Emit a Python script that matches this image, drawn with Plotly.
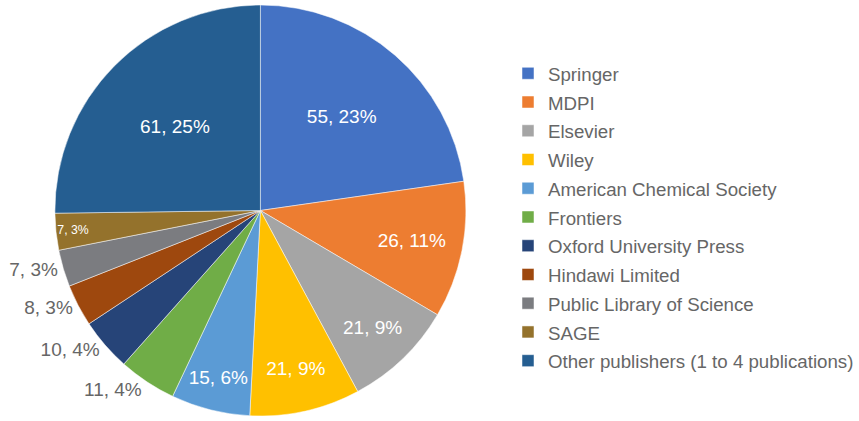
import plotly.graph_objects as go

publishers = ["Springer", "MDPI", "Elsevier", "Wiley", "American Chemical Society",
              "Frontiers", "Oxford University Press", "Hindawi Limited",
              "Public Library of Science", "SAGE", "Other publishers (1 to 4 publications)"]
counts = [55, 26, 21, 21, 15, 11, 10, 8, 7, 7, 61]
percent_labels = ["23%", "11%", "9%", "9%", "6%", "4%", "4%", "3%", "3%", "3%", "25%"]
colors = ["#4472C4", "#ED7D31", "#A5A5A5", "#FFC000", "#5B9BD5", "#70AD47",
          "#264478", "#9E480E", "#7B7C80", "#94722C", "#255E91"]
positions = ["inside", "inside", "inside", "inside", "inside",
             "outside", "outside", "outside", "outside", "inside", "inside"]

FONT = "Liberation Sans, Arial, sans-serif"

legend_labels = [f"<span style='font-size:18.7px'>{p}</span>" for p in publishers]

fig = go.Figure(go.Pie(
    labels=legend_labels,
    values=counts,
    text=percent_labels,
    sort=False,
    direction="clockwise",
    rotation=0,
    marker=dict(colors=colors, line=dict(color="white", width=0.5)),
    texttemplate="%{value}, %{text}",
    textposition=positions,
    insidetextorientation="horizontal",
    insidetextfont=dict(color="white", size=19, family=FONT),
    outsidetextfont=dict(color="#666666", size=19, family=FONT),
    domain=dict(x=[0.0605, 0.547], y=[0.0, 1.0]),
    hoverinfo="label+value+percent",
))

fig.update_layout(
    width=859, height=421,
    margin=dict(l=0, r=0, t=0, b=0),
    paper_bgcolor="white",
    plot_bgcolor="white",
    font=dict(family=FONT, color="#666666", size=19),
    showlegend=True,
    legend=dict(
        x=0.5937, y=0.881, xanchor="left", yanchor="top",
        font=dict(size=19.8, color="#666666"),
        itemwidth=30,
        tracegroupgap=0,
        bgcolor="rgba(0,0,0,0)",
    ),
)

fig.write_html("out.html", config={"displayModeBar": False},
               post_script="document.body.style.margin='0px';")
